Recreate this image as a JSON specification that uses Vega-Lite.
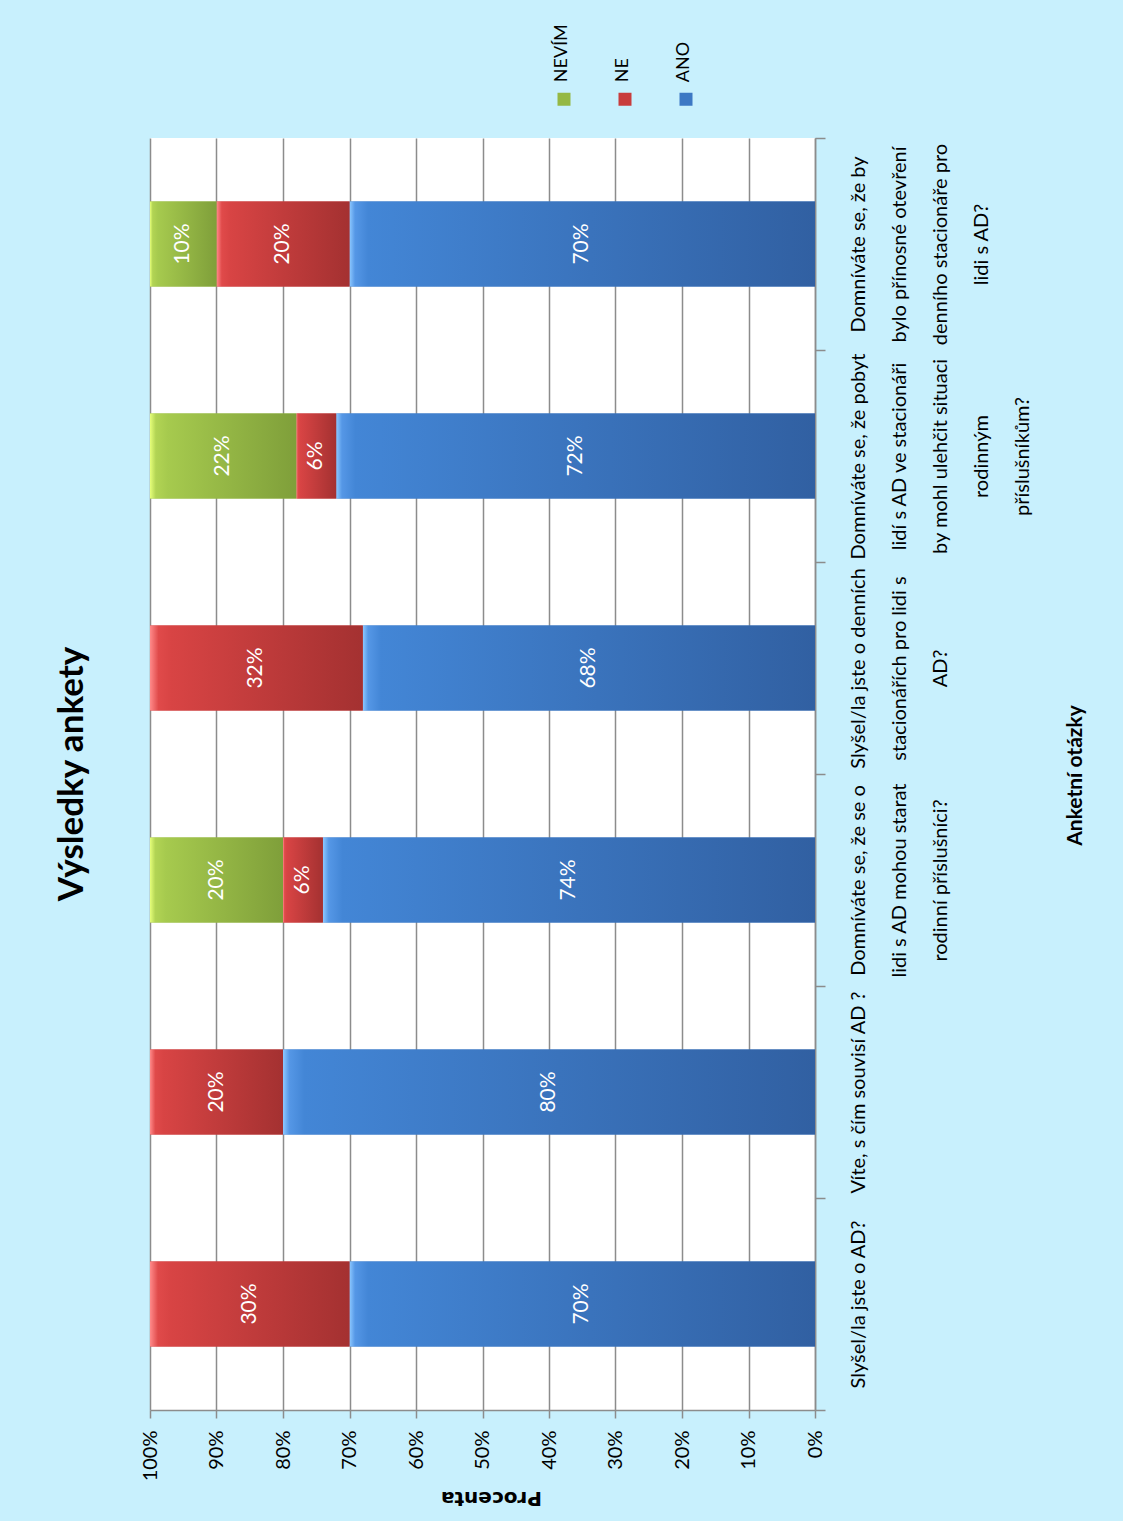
{
  "$schema": "https://vega.github.io/schema/vega-lite/v6.json",
  "width": 665,
  "height": 1272,
  "autosize": {"type": "none"},
  "padding": {"left": 150, "top": 138, "right": 308, "bottom": 111},
  "background": "#c8f0fd",
  "title": {
    "text": "Výsledky ankety",
    "orient": "left",
    "anchor": "middle",
    "offset": 50,
    "fontSize": 35,
    "font": "Lato",
    "fontWeight": "bold",
    "color": "#000000"
  },
  "data": {
    "values": [
      {"q": "Slyšel/la jste o AD?", "series": "ANO", "value": 70},
      {"q": "Slyšel/la jste o AD?", "series": "NE", "value": 30},
      {"q": "Víte, s čím souvisí AD ?", "series": "ANO", "value": 80},
      {"q": "Víte, s čím souvisí AD ?", "series": "NE", "value": 20},
      {"q": "Domníváte se, že se o|lidi s AD mohou starat|rodinní příslušníci?", "series": "ANO", "value": 74},
      {"q": "Domníváte se, že se o|lidi s AD mohou starat|rodinní příslušníci?", "series": "NE", "value": 6},
      {"q": "Domníváte se, že se o|lidi s AD mohou starat|rodinní příslušníci?", "series": "NEVÍM", "value": 20},
      {"q": "Slyšel/la jste o denních|stacionářích pro lidi s|AD?", "series": "ANO", "value": 68},
      {"q": "Slyšel/la jste o denních|stacionářích pro lidi s|AD?", "series": "NE", "value": 32},
      {"q": "Domníváte se, že pobyt|lidí s AD ve stacionáři|by mohl ulehčit situaci|rodinným|příslušníkům?", "series": "ANO", "value": 72},
      {"q": "Domníváte se, že pobyt|lidí s AD ve stacionáři|by mohl ulehčit situaci|rodinným|příslušníkům?", "series": "NE", "value": 6},
      {"q": "Domníváte se, že pobyt|lidí s AD ve stacionáři|by mohl ulehčit situaci|rodinným|příslušníkům?", "series": "NEVÍM", "value": 22},
      {"q": "Domníváte se, že by|bylo přínosné otevření|denního stacionáře pro|lidi s AD?", "series": "ANO", "value": 70},
      {"q": "Domníváte se, že by|bylo přínosné otevření|denního stacionáře pro|lidi s AD?", "series": "NE", "value": 20},
      {"q": "Domníváte se, že by|bylo přínosné otevření|denního stacionáře pro|lidi s AD?", "series": "NEVÍM", "value": 10}
    ]
  },
  "transform": [
    {"stack": "value", "groupby": ["q"], "sort": [{"field": "series", "order": "ascending"}], "as": ["v0", "v1"]},
    {"calculate": "(datum.v0 + datum.v1) / 2", "as": "mid"},
    {"calculate": "datum.value + '%'", "as": "lab"}
  ],
  "encoding": {
    "y": {
      "field": "q",
      "type": "nominal",
      "sort": [
        "Domníváte se, že by|bylo přínosné otevření|denního stacionáře pro|lidi s AD?",
        "Domníváte se, že pobyt|lidí s AD ve stacionáři|by mohl ulehčit situaci|rodinným|příslušníkům?",
        "Slyšel/la jste o denních|stacionářích pro lidi s|AD?",
        "Domníváte se, že se o|lidi s AD mohou starat|rodinní příslušníci?",
        "Víte, s čím souvisí AD ?",
        "Slyšel/la jste o AD?"
      ],
      "scale": {"paddingInner": 0, "paddingOuter": 0},
      "axis": {
        "orient": "right",
        "title": "Anketní otázky",
        "titleAngle": 270,
        "titleX": 260,
        "titleY": 637,
        "titleAlign": "center",
        "titleBaseline": "middle",
        "titleFontSize": 21,
        "titleFontWeight": "bold",
        "titleFont": "Lato",
        "titleColor": "#000000",
        "domainColor": "#8c8c8c",
        "domainWidth": 1.5,
        "tickColor": "#8c8c8c",
        "tickWidth": 1.5,
        "tickSize": 10,
        "tickBand": "extent",
        "grid": false,
        "labelAngle": 270,
        "labelAlign": "center",
        "labelBaseline": "top",
        "labelPadding": 23,
        "labelLineHeight": 41,
        "labelFontSize": 20,
        "labelFont": "Lato",
        "labelColor": "#000000",
        "labelLimit": 0,
        "labelOverlap": false,
        "labelExpr": "split(datum.label, '|')"
      }
    }
  },
  "layer": [
    {
      "mark": {"type": "bar", "height": {"band": 0.4}},
      "encoding": {
        "x": {
          "field": "v0",
          "type": "quantitative",
          "scale": {"domain": [0, 100], "reverse": true, "nice": false},
          "axis": {
            "orient": "bottom",
            "values": [0, 10, 20, 30, 40, 50, 60, 70, 80, 90, 100],
            "labelExpr": "datum.value + '%'",
            "grid": true,
            "gridColor": "#8c8c8c",
            "gridWidth": 1.5,
            "domainColor": "#8c8c8c",
            "domainWidth": 1.5,
            "tickColor": "#8c8c8c",
            "tickWidth": 1.5,
            "tickSize": 8,
            "labelAngle": 270,
            "labelAlign": "right",
            "labelBaseline": "middle",
            "labelPadding": 12,
            "labelFontSize": 20,
            "labelFont": "Lato",
            "labelColor": "#000000",
            "labelOverlap": false,
            "title": "Procenta",
            "titleAngle": 180,
            "titleX": 341,
            "titleY": 87,
            "titleAlign": "center",
            "titleBaseline": "middle",
            "titleFontSize": 20,
            "titleFont": "DejaVu Sans",
            "titleFontWeight": "bold",
            "titleColor": "#000000"
          }
        },
        "x2": {"field": "v1"},
        "color": {
          "field": "series",
          "type": "nominal",
          "scale": {"domain": ["NEVÍM", "NE", "ANO"], "range": ["#95b844", "#c83c3c", "#3d78c4"]},
          "legend": {
            "title": null,
            "orient": "none",
            "direction": "horizontal",
            "legendX": 405,
            "legendY": -48,
            "padding": 0,
            "columnPadding": 42,
            "symbolType": "square",
            "symbolSize": 169,
            "symbolStrokeWidth": 0,
            "labelFontSize": 18,
            "labelFont": "Lato",
            "labelColor": "#000000",
            "encoding": {
              "labels": {
                "angle": {"value": -90},
                "align": {"value": "left"},
                "baseline": {"value": "middle"},
                "x": {"value": 6.5},
                "y": {"value": -8}
              }
            }
          }
        }
      }
    },
    {
      "transform": [{"filter": "datum.series === 'ANO'"}],
      "mark": {
        "type": "bar",
        "height": {"band": 0.4},
        "color": {
          "gradient": "linear", "x1": 0, "y1": 0, "x2": 1, "y2": 0,
          "stops": [
            {"offset": 0, "color": "#8cc8ff"},
            {"offset": 0.012, "color": "#5597e6"},
            {"offset": 0.04, "color": "#4386d6"},
            {"offset": 1, "color": "#3160a2"}
          ]
        }
      },
      "encoding": {
        "x": {"field": "v0", "type": "quantitative"},
        "x2": {"field": "v1"}
      }
    },
    {
      "transform": [{"filter": "datum.series === 'NE'"}],
      "mark": {
        "type": "bar",
        "height": {"band": 0.4},
        "color": {
          "gradient": "linear", "x1": 0, "y1": 0, "x2": 1, "y2": 0,
          "stops": [
            {"offset": 0, "color": "#ff8a8a"},
            {"offset": 0.04, "color": "#e04a4a"},
            {"offset": 0.1, "color": "#d84444"},
            {"offset": 1, "color": "#a43131"}
          ]
        }
      },
      "encoding": {
        "x": {"field": "v0", "type": "quantitative"},
        "x2": {"field": "v1"}
      }
    },
    {
      "transform": [{"filter": "datum.series === 'NEVÍM'"}],
      "mark": {
        "type": "bar",
        "height": {"band": 0.4},
        "color": {
          "gradient": "linear", "x1": 0, "y1": 0, "x2": 1, "y2": 0,
          "stops": [
            {"offset": 0, "color": "#e6ff7a"},
            {"offset": 0.04, "color": "#b2d454"},
            {"offset": 0.12, "color": "#a6ca4e"},
            {"offset": 1, "color": "#7f9f3a"}
          ]
        }
      },
      "encoding": {
        "x": {"field": "v0", "type": "quantitative"},
        "x2": {"field": "v1"}
      }
    },
    {
      "mark": {
        "type": "text",
        "angle": 270,
        "color": "#ffffff",
        "fontSize": 21,
        "font": "Lato",
        "align": "center",
        "baseline": "middle"
      },
      "encoding": {
        "x": {"field": "mid", "type": "quantitative"},
        "text": {"field": "lab"}
      }
    }
  ],
  "config": {
    "view": {"fill": "#ffffff", "stroke": null}
  }
}
